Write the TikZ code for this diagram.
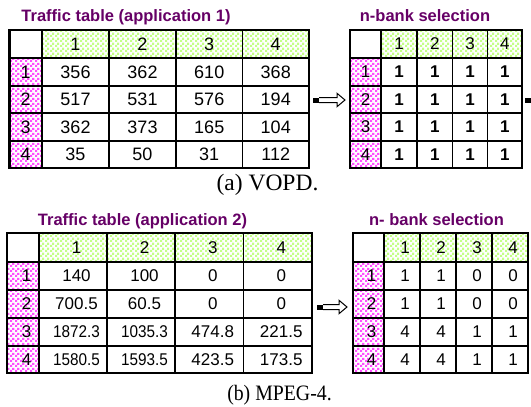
\documentclass[tikz,border=0pt]{standalone}
\usepackage{fontspec}
\setmainfont{Liberation Serif}
\newfontfamily\arialf{Liberation Sans}
\newfontfamily\arialsq[FakeStretch=0.9]{Liberation Sans}
\newfontfamily\serifc[FakeStretch=0.9]{Liberation Serif}
\usetikzlibrary{patterns,calc}
\definecolor{ttl}{RGB}{102,0,102}
\definecolor{chkgreen}{RGB}{196,255,136}
\definecolor{chkpink}{RGB}{255,80,255}
\pgfdeclarepatternformonly{bigchecker}{\pgfpointorigin}{\pgfqpoint{5pt}{5pt}}{\pgfqpoint{5pt}{5pt}}{%
  \pgfpathrectangle{\pgfpointorigin}{\pgfqpoint{2.5pt}{2.5pt}}%
  \pgfpathrectangle{\pgfqpoint{2.5pt}{2.5pt}}{\pgfqpoint{2.5pt}{2.5pt}}%
  \pgfusepath{fill}}
\newcommand\sqz[1]{{\arialsq\fontsize{17}{20}\selectfont #1}}
\tikzset{
  gridline/.style={line width=1.2pt, draw=black},
  tframe/.style={draw=black, line width=2.8pt, inner sep=0pt, outer sep=0pt, anchor=north west},
  ttlnode/.style={font=\arialf\bfseries\fontsize{16.5}{20}\selectfont, text=ttl, anchor=base, inner sep=0pt},
  greenchk/.style={pattern=bigchecker, pattern color=chkgreen},
  pinkchk/.style={pattern=bigchecker, pattern color=chkpink},
  arrowline/.style={draw=black, line width=1pt, fill=white, line join=miter},
  capnode/.style={anchor=base, inner sep=0pt},
  celltext/.style={inner sep=0pt},
}
% #1 name, #2 x borders, #3 y borders, #4 header font, #5 body font, #6 rows, #7 extra cell options
\newcommand\drawtable[7]{%
  \def\xs{#2}\def\ys{#3}%
  \pgfmathsetmacro\xO{\xs[0]}\pgfmathsetmacro\xI{\xs[1]}\pgfmathsetmacro\xE{\xs[5]}%
  \pgfmathsetmacro\yO{\ys[0]}\pgfmathsetmacro\yI{\ys[1]}\pgfmathsetmacro\yE{\ys[5]}%
  \fill[white] (\xO,\yO) rectangle (\xE,\yE);
  \fill[greenchk] (\xI,\yO) rectangle (\xE,\yI);
  \fill[pinkchk] (\xO,\yI) rectangle (\xI,\yE);
  \foreach \i in {1,...,4}{
    \pgfmathsetmacro\xx{\xs[\i]}\pgfmathsetmacro\yy{\ys[\i]}
    \draw[gridline] (\xx,\yO) -- (\xx,\yE);
    \draw[gridline] (\xO,\yy) -- (\xE,\yy);
  }
  \pgfmathsetmacro\hxx{(\xO+\xI)/2}%
  \pgfmathsetmacro\hyy{(\yO+\yI)/2}%
  \foreach \i in {1,...,4}{
    \pgfmathtruncatemacro\nxt{\i+1}
    \pgfmathsetmacro\pa{\xs[\i]}\pgfmathsetmacro\pb{\xs[\nxt]}
    \pgfmathsetmacro\qa{\ys[\i]}\pgfmathsetmacro\qb{\ys[\nxt]}
    \pgfmathsetmacro\cxx{(\pa+\pb)/2}
    \pgfmathsetmacro\cyy{(\qa+\qb)/2}
    \node[celltext, font={#4}, #7] (#1-h\i) at (\cxx,\hyy) {\i};
    \node[celltext, font={#4}, #7] (#1-r\i) at (\hxx,\cyy) {\i};
  }
  \foreach \row [count=\ri] in {#6}{
    \foreach \val [count=\ci] in \row {
      \pgfmathtruncatemacro\nxc{\ci+1}
      \pgfmathtruncatemacro\nxr{\ri+1}
      \pgfmathsetmacro\pa{\xs[\ci]}\pgfmathsetmacro\pb{\xs[\nxc]}
      \pgfmathsetmacro\qa{\ys[\ri]}\pgfmathsetmacro\qb{\ys[\nxr]}
      \pgfmathsetmacro\cxx{(\pa+\pb)/2}
      \pgfmathsetmacro\cyy{(\qa+\qb)/2}
      \node[celltext, font={#5}, #7] (#1-\ri-\ci) at (\cxx,\cyy) {\val};
    }
  }
  \node[tframe, minimum width={(\xE-\xO)*1pt}, minimum height={(\yE-\yO)*1pt}] (#1) at (\xO,\yO) {};
}
\newcommand\blockarrow[2]{%
  \fill[black] ($(#1)+(0,-2.5)$) rectangle ($(#1)+(6,2.5)$);
  \draw[arrowline] ($(#1)+(6,-2.5)$) -- ($(#2)+(-8,-2.5)$) -- ($(#2)+(-8,-6.7)$) -- (#2)
     -- ($(#2)+(-8,6.7)$) -- ($(#2)+(-8,2.5)$) -- ($(#1)+(6,2.5)$);
}
\begin{document}
\begin{tikzpicture}[x=1pt,y=-1pt]
\useasboundingbox (0,0) rectangle (531,407);
% (a) VOPD
\node[ttlnode] (tA) at (126,21.5) {Traffic table (application 1)};
\node[ttlnode] (tB) at (425,21) {n-bank selection};
\drawtable{A}{{9.5,42,109,176,242.5,309}}{{30,58,86,113,141,168}}
  {\arialf\fontsize{18}{21}\selectfont}{\arialf\fontsize{18}{21}\selectfont}
  {{356,362,610,368},{517,531,576,194},{362,373,165,104},{35,50,31,112}}{}
\drawtable{B}{{350,381,417,452.5,487.5,522}}{{30,58,86,113,141,168}}
  {\arialf\fontsize{17}{20}\selectfont}{\arialf\bfseries\fontsize{17}{20}\selectfont}
  {{1,1,1,1},{1,1,1,1},{1,1,1,1},{1,1,1,1}}{}
\coordinate (a1s) at ($(A.east)+(4,1)$);
\coordinate (a1e) at ($(B.west)+(-5,1)$);
\blockarrow{a1s}{a1e}
\fill[black] ($(B.east)+(3,-1.5)$) rectangle ($(B.east)+(10,3.5)$);
\node[capnode, font=\fontsize{23.5}{28}\selectfont] (capA) at (267.5,190.5) {(a) VOPD.};
% (b) MPEG-4
\node[ttlnode] (tC) at (142.5,225) {Traffic table (application 2)};
\node[ttlnode] (tD) at (436.5,225) {n- bank selection};
\drawtable{C}{{7,39,107,175,243.5,312}}{{233,262,290,318,346,373}}
  {\arialf\fontsize{17}{20}\selectfont}{\arialf\fontsize{17}{20}\selectfont}
  {{140,100,0,0},{700.5,60.5,0,0},{\sqz{1872.3},\sqz{1035.3},474.8,221.5},{\sqz{1580.5},\sqz{1593.5},423.5,173.5}}{xshift=3.5pt}
\drawtable{D}{{353,384,420,456,492,528}}{{233,262,290,318,346,373}}
  {\arialf\fontsize{17}{20}\selectfont}{\arialf\fontsize{17}{20}\selectfont}
  {{1,1,0,0},{1,1,0,0},{4,4,1,1},{4,4,1,1}}{xshift=3pt}
\coordinate (a2s) at ($(C.east)+(5,4)$);
\coordinate (a2e) at ($(D.west)+(-6,4)$);
\blockarrow{a2s}{a2e}
\node[capnode, font=\serifc\fontsize{22}{26}\selectfont] (capB) at (279.5,400) {(b) MPEG-4.};
\end{tikzpicture}
\end{document}
